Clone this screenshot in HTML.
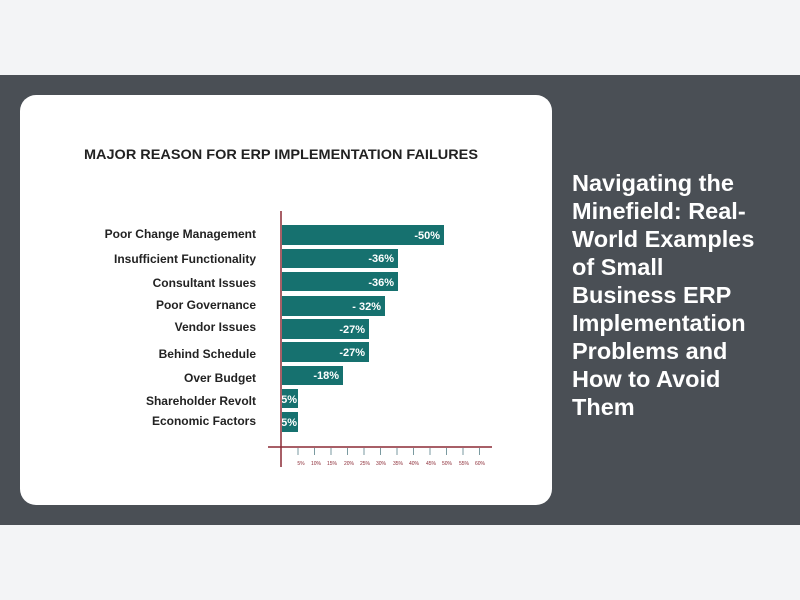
<!DOCTYPE html>
<html><head><style>
body{margin:0;width:800px;height:600px;background:#f3f4f6;position:relative;font-family:"Liberation Sans",sans-serif;overflow:hidden}
.band{position:absolute;left:0;top:75px;width:800px;height:450px;background:#4a4f55}
.card{position:absolute;left:20px;top:95px;width:532px;height:410px;background:#fff;border-radius:16px}
.title{position:absolute;left:572px;top:169px;width:225px;color:#fff;font-weight:bold;font-size:23.5px;line-height:28px;white-space:nowrap}
</style></head><body>
<div class="band"></div>
<div class="card"></div>
<svg style="position:absolute;left:0;top:0" width="800" height="600">
<text x="84" y="159" font-family="Liberation Sans" font-weight="bold" font-size="14" textLength="394" lengthAdjust="spacingAndGlyphs" fill="#222">MAJOR REASON FOR ERP IMPLEMENTATION FAILURES</text>
<g font-family="Liberation Sans" font-weight="bold" font-size="12" fill="#222" text-anchor="end">
<text x="256" y="238">Poor Change Management</text>
<text x="256" y="263">Insufficient Functionality</text>
<text x="256" y="287">Consultant Issues</text>
<text x="256" y="309">Poor Governance</text>
<text x="256" y="331">Vendor Issues</text>
<text x="256" y="358">Behind Schedule</text>
<text x="256" y="382">Over Budget</text>
<text x="256" y="405">Shareholder Revolt</text>
<text x="256" y="425">Economic Factors</text>
</g>
<g fill="#16716f">
<rect x="282" y="225" width="162" height="20"/>
<rect x="282" y="249" width="116" height="19"/>
<rect x="282" y="272" width="116" height="19"/>
<rect x="282" y="296" width="103" height="20"/>
<rect x="282" y="319" width="87" height="20"/>
<rect x="282" y="342" width="87" height="20"/>
<rect x="282" y="366" width="61" height="19"/>
<rect x="282" y="389" width="16" height="19"/>
<rect x="282" y="412" width="16" height="20"/>
</g>
<g font-family="Liberation Sans" font-weight="bold" font-size="11" fill="#fff" text-anchor="end">
<text x="440" y="239">-50%</text>
<text x="394" y="262">-36%</text>
<text x="394" y="286">-36%</text>
<text x="381" y="310">- 32%</text>
<text x="365" y="333">-27%</text>
<text x="365" y="356">-27%</text>
<text x="339" y="379">-18%</text>
<text x="297" y="403">5%</text>
<text x="297" y="426">5%</text>
</g>
<g stroke="#8b2a35" stroke-width="1.5">
<line x1="281" y1="211" x2="281" y2="467"/>
<line x1="268" y1="447" x2="492" y2="447"/>
</g>
<g stroke="#7a9aa0" stroke-width="1">
<line x1="298" y1="448" x2="298" y2="455"/><line x1="314.5" y1="448" x2="314.5" y2="455"/><line x1="331" y1="448" x2="331" y2="455"/><line x1="347.5" y1="448" x2="347.5" y2="455"/><line x1="364" y1="448" x2="364" y2="455"/><line x1="380.5" y1="448" x2="380.5" y2="455"/><line x1="397" y1="448" x2="397" y2="455"/><line x1="413.5" y1="448" x2="413.5" y2="455"/><line x1="430" y1="448" x2="430" y2="455"/><line x1="446.5" y1="448" x2="446.5" y2="455"/><line x1="463" y1="448" x2="463" y2="455"/><line x1="479.5" y1="448" x2="479.5" y2="455"/>
</g>
<g font-family="Liberation Sans" font-size="5" fill="#8b2a35" text-anchor="middle">
<text x="301" y="465">5%</text><text x="316" y="465">10%</text><text x="332" y="465">15%</text><text x="349" y="465">20%</text><text x="365" y="465">25%</text><text x="381" y="465">30%</text><text x="398" y="465">35%</text><text x="414" y="465">40%</text><text x="431" y="465">45%</text><text x="447" y="465">50%</text><text x="464" y="465">55%</text><text x="480" y="465">60%</text>
</g>
</svg>
<div class="title">Navigating the<br>Minefield: Real-<br>World Examples<br>of Small<br>Business ERP<br>Implementation<br>Problems and<br>How to Avoid<br>Them</div>
</body></html>
